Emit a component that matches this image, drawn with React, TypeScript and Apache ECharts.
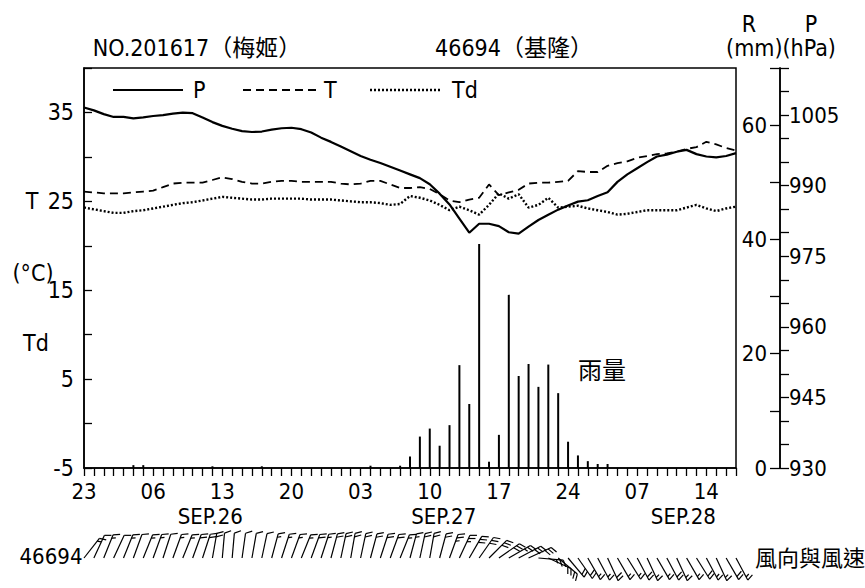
import React, { useEffect, useRef } from "react";
import * as echarts from "echarts";

// ---- time axis: hourly, 2016/09/25 23h .. 09/28 17h ----
const DAY_SPANS = [
  { day: "09-25", from: 23, to: 23 },
  { day: "09-26", from: 0, to: 23 },
  { day: "09-27", from: 0, to: 23 },
  { day: "09-28", from: 0, to: 17 },
];
const CATEGORIES: string[] = [];
DAY_SPANS.forEach((s) => {
  for (let h = s.from; h <= s.to; h++) CATEGORIES.push(`${s.day} ${String(h).padStart(2, "0")}`);
});

const TICK_LABELS = ["23", "06", "13", "20", "03", "10", "17", "24", "07", "14"];
const DATE_TICKS: Record<number, string> = { 14: "SEP.26", 35: "SEP.27", 63: "SEP.28" };
const LEGEND_NAMES = ["P", "T", "Td"];

// ---- series ----
const P_HPA = [
  1006.6, 1006.0, 1005.2, 1004.6, 1004.6, 1004.3, 1004.5, 1004.8, 1005.0, 1005.3,
  1005.5, 1005.4, 1004.5, 1003.5, 1002.7, 1002.1, 1001.6, 1001.4, 1001.5, 1001.9,
  1002.2, 1002.3, 1002.0, 1001.3, 1000.2, 999.3, 998.3, 997.3, 996.3, 995.5,
  994.8, 994.0, 993.2, 992.4, 991.6, 990.3, 988.3, 986.0, 983.0, 980.0,
  981.9, 981.9, 981.4, 980.1, 979.8, 981.3, 982.7, 983.8, 984.9, 985.8,
  986.6, 986.9, 987.8, 988.6, 990.8, 992.4, 993.7, 995.0, 996.2, 996.6,
  997.2, 997.6, 996.7, 996.2, 996.0, 996.3, 996.9,
];
const T_C = [
  26.1, 26.0, 25.9, 25.9, 25.9, 26.0, 26.1, 26.2, 26.6, 27.0,
  27.1, 27.1, 27.1, 27.4, 27.7, 27.5, 27.2, 27.0, 27.0, 27.2,
  27.3, 27.3, 27.2, 27.2, 27.2, 27.2, 27.0, 26.9, 27.0, 27.3,
  27.3, 26.9, 26.5, 26.5, 26.6, 26.4, 25.8, 25.1, 24.9, 25.2,
  25.4, 26.9, 25.7, 26.0, 26.3, 27.0, 27.1, 27.1, 27.2, 27.3,
  28.4, 28.3, 28.3, 29.0, 29.3, 29.5, 29.9, 30.1, 30.3, 30.4,
  30.6, 30.9, 31.1, 31.7, 31.4, 31.0, 30.7,
];
const TD_C = [
  24.3, 24.1, 23.9, 23.7, 23.7, 23.9, 24.0, 24.2, 24.4, 24.6,
  24.8, 24.9, 25.1, 25.3, 25.5, 25.4, 25.3, 25.2, 25.2, 25.3,
  25.3, 25.3, 25.3, 25.2, 25.2, 25.2, 25.1, 25.0, 24.9, 24.9,
  24.8, 24.6, 24.7, 25.6, 25.4, 25.1, 24.6, 24.0, 24.4, 24.0,
  23.5, 24.6, 25.9, 25.3, 25.8, 24.3, 24.6, 25.4, 24.3, 24.4,
  24.5, 24.2, 24.0, 23.8, 23.5, 23.6, 23.8, 24.0, 24.0, 24.0,
  24.0, 24.3, 24.6, 24.2, 23.9, 24.2, 24.4,
];
const RAIN_MM = [
  0, 0, 0, 0, 0, 0.5, 0.5, 0, 0, 0,
  0, 0, 0, 0.3, 0, 0, 0, 0, 0.3, 0,
  0, 0, 0, 0, 0, 0, 0, 0, 0, 0.4,
  0, 0, 0.4, 2.0, 5.5, 6.9, 3.9, 7.5, 18.0, 11.2,
  39.2, 1.1, 5.8, 30.3, 16.1, 18.2, 14.2, 18.1, 13.1, 4.6,
  2.2, 1.2, 0.7, 0.7, 0, 0, 0, 0, 0, 0,
  0, 0, 0, 0, 0, 0, 0,
];
// wind: direction the wind comes from (deg) and speed (kt)
const WIND_DIR = [
  38, 25, 22, 25, 22, 20, 22, 20, 18, 20,
  22, 20, 18, 10, 5, 5, 8, 10, 12, 15,
  18, 20, 22, 20, 18, 15, 12, 10, 12, 15,
  18, 20, 22, 15, 12, 10, 15, 20, 25, 30,
  35, 45, 55, 60, 62, 65, 95, 115, 130, 140,
  145, 150, 152, 155, 150, 148, 152, 155, 150, 152,
  155, 150, 148, 152, 155, 150, 152,
];
const WIND_SPD = [
  15, 10, 15, 10, 15, 10, 15, 15, 10, 15,
  15, 20, 20, 20, 10, 10, 10, 10, 10, 15,
  15, 15, 15, 20, 15, 20, 20, 20, 20, 20,
  20, 20, 15, 15, 20, 20, 20, 25, 25, 30,
  30, 30, 30, 25, 30, 30, 25, 20, 20, 20,
  20, 15, 15, 20, 15, 15, 20, 15, 15, 20,
  15, 15, 20, 15, 15, 20, 15,
];

const FONT = "'Liberation Sans Narrow', 'DejaVu Sans Condensed', 'Liberation Sans', 'Noto Sans CJK TC', sans-serif";
const CJK = "'Noto Sans CJK TC', sans-serif";

function txt(text: string, x: number, y: number, size: number, family = FONT, align = "center") {
  return {
    type: "text",
    x,
    y,
    silent: true,
    style: {
      text,
      fill: "#000",
      fontSize: size,
      fontFamily: family,
      align,
      verticalAlign: "middle",
      textAlign: align,
      textVerticalAlign: "middle",
    },
  };
}

function legendLine(x1: number, x2: number, y: number, width: number, dash: number[] | null) {
  return {
    type: "line",
    silent: true,
    shape: { x1, y1: y, x2, y2: y },
    style: { stroke: "#000", lineWidth: width, lineDash: dash || undefined },
  };
}

function renderBarb(params: any, api: any) {
  const idx = api.value(0);
  const dir = (api.value(2) * Math.PI) / 180;
  const spd = api.value(3);
  const base = api.coord([idx, 0]);
  const ux = Math.sin(dir);
  const uy = -Math.cos(dir);
  let px = -uy;
  let py = ux;
  let slant = 25;
  if (px < -0.7) {
    px = -px;
    py = -py;
    slant = -20;
  }
  const L = 25;
  const tx = base[0] + ux * L;
  const ty = base[1] + uy * L;
  const st = { stroke: "#000", lineWidth: 1.2 };
  const children: any[] = [
    { type: "line", shape: { x1: base[0], y1: base[1], x2: tx, y2: ty }, style: st },
  ];
  const a = (slant * Math.PI) / 180;
  const fx = px * Math.cos(a) + ux * Math.sin(a);
  const fy = py * Math.cos(a) + uy * Math.sin(a);
  const full = Math.floor(spd / 10);
  const half = spd % 10 >= 5 ? 1 : 0;
  let k = 0;
  const feather = (len: number) => {
    const sx = tx - ux * k * 3.5;
    const sy = ty - uy * k * 3.5;
    children.push({
      type: "line",
      shape: { x1: sx, y1: sy, x2: sx + fx * len, y2: sy + fy * len },
      style: st,
    });
    k++;
  };
  for (let i = 0; i < full; i++) feather(7);
  if (half) feather(4);
  return { type: "group", children };
}

export default function App() {
  const ref = useRef<HTMLDivElement>(null);
  useEffect(() => {
    document.body.style.margin = "0";
    if (!ref.current) return;
    const chart = echarts.init(ref.current, undefined, { renderer: "svg" });
    const axisLineStyle = { color: "#000", width: 1.5 };
    const tickStyle = { color: "#000", width: 1.3 };
    const labelBase = { color: "#000", fontSize: 22, fontFamily: FONT };
    const option: any = {
      animation: false,
      backgroundColor: "#fff",
      textStyle: { fontFamily: FONT, color: "#000" },
      grid: [
        { left: 84, top: 68, width: 652, height: 400, show: true, borderColor: "#000", borderWidth: 1.5, backgroundColor: "transparent" },
        { left: 84, top: 533, width: 652, height: 50, show: false },
      ],
      xAxis: [
        {
          type: "category",
          gridIndex: 0,
          data: CATEGORIES,
          boundaryGap: false,
          axisLine: { show: true, onZero: false, lineStyle: axisLineStyle },
          axisTick: { show: true, interval: 0, length: 8, lineStyle: tickStyle },
          splitLine: { show: false },
          axisLabel: {
            ...labelBase,
            interval: 6,
            margin: 12,
            lineHeight: 22,
            formatter: (_v: string, index: number) => {
              const lab = TICK_LABELS[index / 7];
              return lab === undefined ? "" : lab;
            },
          },
        },
        { type: "category", gridIndex: 1, data: CATEGORIES, boundaryGap: false, show: false, axisLine: { onZero: false } },
        {
          type: "category",
          gridIndex: 0,
          data: CATEGORIES,
          boundaryGap: false,
          position: "bottom",
          axisLine: { show: false, onZero: false },
          axisTick: { show: false },
          splitLine: { show: false },
          axisLabel: {
            ...labelBase,
            interval: 0,
            margin: 37,
            lineHeight: 22,
            formatter: (_v: string, index: number) => {
              const d = DATE_TICKS[index];
              return d ? `{d${index}|${d}}` : "";
            },
            rich: {
              d14: { ...labelBase, lineHeight: 22, padding: [0, 24, 0, 0] },
              d35: { ...labelBase, lineHeight: 22, padding: [0, 0, 0, 28] },
              d63: { ...labelBase, lineHeight: 22, padding: [0, 46, 0, 0] },
            },
          },
        },
      ],
      yAxis: [
        {
          type: "value",
          gridIndex: 0,
          min: -5,
          max: 40,
          interval: 5,
          position: "left",
          axisLine: { show: true, onZero: false, lineStyle: axisLineStyle },
          axisTick: { show: true, inside: true, length: 8, lineStyle: tickStyle },
          splitLine: { show: false },
          axisLabel: { ...labelBase, fontSize: 23, margin: 10, formatter: (v: number) => ((v + 5) % 10 === 0 ? String(v) : "") },
        },
        {
          type: "value",
          gridIndex: 0,
          min: 0,
          max: 70,
          interval: 10,
          position: "right",
          offset: 44,
          axisLine: { show: true, onZero: false, lineStyle: axisLineStyle },
          axisTick: { show: true, inside: true, length: 10, lineStyle: tickStyle },
          splitLine: { show: false },
          axisLabel: { ...labelBase, inside: true, margin: 13, formatter: (v: number) => (v % 20 === 0 ? String(v) : "") },
        },
        {
          type: "value",
          gridIndex: 0,
          min: 930,
          max: 1015,
          interval: 5,
          position: "right",
          offset: 44,
          axisLine: { show: true, onZero: false, lineStyle: axisLineStyle },
          axisTick: { show: true, inside: false, length: 9, lineStyle: tickStyle },
          splitLine: { show: false },
          axisLabel: { ...labelBase, margin: 9, formatter: (v: number) => ((v - 930) % 15 === 0 ? String(v) : "") },
        },
        { type: "value", gridIndex: 1, min: -1, max: 1, show: false },
      ],
      series: [
        {
          name: "R",
          type: "bar",
          xAxisIndex: 0,
          yAxisIndex: 1,
          data: RAIN_MM,
          barWidth: 2,
          itemStyle: { color: "#000" },
          z: 1,
        },
        {
          name: LEGEND_NAMES[0],
          type: "line",
          xAxisIndex: 0,
          yAxisIndex: 2,
          data: P_HPA,
          symbol: "none",
          lineStyle: { color: "#000", width: 2.2 },
          itemStyle: { color: "#000" },
          z: 3,
        },
        {
          name: LEGEND_NAMES[1],
          type: "line",
          xAxisIndex: 0,
          yAxisIndex: 0,
          data: T_C,
          symbol: "none",
          lineStyle: { color: "#000", width: 1.8, type: [8, 5] },
          itemStyle: { color: "#000" },
          z: 3,
        },
        {
          name: LEGEND_NAMES[2],
          type: "line",
          xAxisIndex: 0,
          yAxisIndex: 0,
          data: TD_C,
          symbol: "none",
          lineStyle: { color: "#000", width: 2.4, type: [2, 2] },
          itemStyle: { color: "#000" },
          z: 3,
        },
        {
          name: "wind",
          type: "custom",
          xAxisIndex: 1,
          yAxisIndex: 3,
          data: WIND_DIR.map((d, i) => [i, 0, d, WIND_SPD[i]]),
          encode: { x: 0, y: 1 },
          renderItem: renderBarb,
          silent: true,
        },
      ],
      graphic: [
        txt("NO.201617（梅姬）", 197, 48, 23),
        txt("46694（基隆）", 514, 48, 23),
        txt("R", 749, 24, 23),
        txt("P", 811, 24, 23),
        txt("(mm)(hPa)", 781, 48, 23),
        txt("T", 32, 201, 23),
        txt("(°C)", 33, 273, 23),
        txt("Td", 36, 343, 23),
        txt("雨量", 602, 368, 24, CJK),
        txt("46694", 51, 556, 22),
        txt("風向與風速", 810, 556, 22, CJK),
        legendLine(113, 183, 90, 2.2, null),
        txt(LEGEND_NAMES[0], 193, 90, 23, FONT, "left"),
        legendLine(243, 318, 90, 1.8, [8, 5]),
        txt(LEGEND_NAMES[1], 324, 90, 23, FONT, "left"),
        legendLine(370, 442, 90, 2.4, [2, 2]),
        txt(LEGEND_NAMES[2], 452, 90, 23, FONT, "left"),
      ],
    };
    chart.setOption(option);
    return () => chart.dispose();
  }, []);
  return <div ref={ref} style={{ width: 865, height: 588 }} />;
}
